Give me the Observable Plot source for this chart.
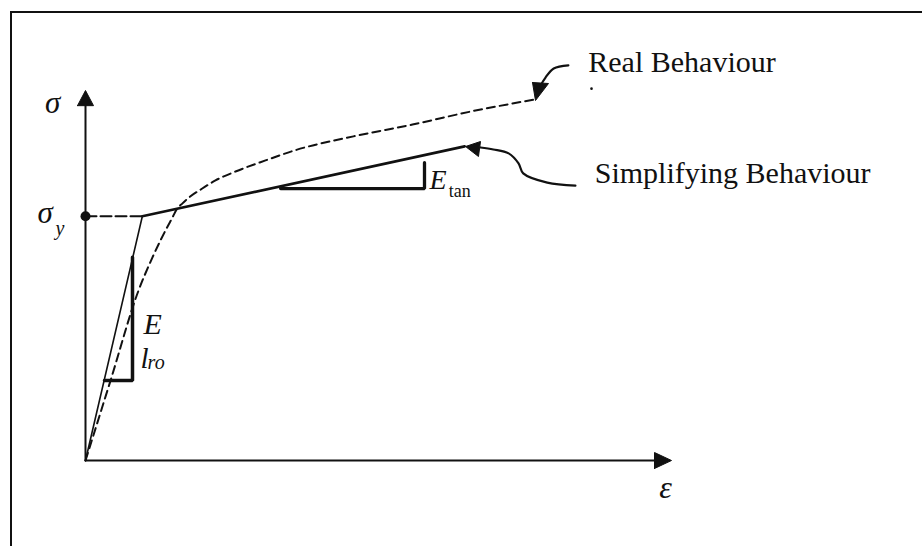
<!DOCTYPE html>
<html>
<head>
<meta charset="utf-8">
<script src="https://cdn.jsdelivr.net/npm/d3@7"></script>
<script src="https://cdn.jsdelivr.net/npm/@observablehq/plot@0.6"></script>
<style>
  html, body { margin: 0; padding: 0; background: #fff; }
  #wrap { position: relative; width: 922px; height: 546px; overflow: hidden; }
  #frame { position: absolute; left: 10px; top: 11px; width: 912px; height: 540px;
           border-top: 2.5px solid #111; border-left: 2.5px solid #111; pointer-events: none; }
  svg { display: block; }
</style>
</head>
<body>
<div id="wrap"><div id="frame"></div></div>
<script>
// ---- chart values (strain ε and stress σ in arbitrary 0-100 units) ----
const elasticEps = [0, 9.7];
const elasticSig = [0, 66];
const plasticEps = [9.7, 64.7];
const plasticSig = [66, 84.9];

const realEps = [0, 4.27, 9.04, 11.43, 12.8, 13.99, 14.85, 15.53, 16.55, 17.92, 19.62, 22.18, 25.6, 30.72, 35.67, 45.73, 55.8, 65.7, 76.8];
const realSig = [0, 21.6, 45.9, 54.9, 59.5, 63.2, 65.7, 67.8, 69.5, 71.4, 73.2, 75.7, 78.1, 81.1, 83.8, 87.6, 90.8, 94.3, 97.6];

const yieldSig = 66;
const yieldEps = 9.7;

// slope triangles
const eTriEps = [3.24, 8.02, 8.02];
const eTriSig = [21.6, 21.6, 54.9];
const tanTriEps = [33.3, 57.85, 57.85];
const tanTriSig = [73.5, 73.5, 80.5];

// axes
const yAxisTop = 95.9, yArrowTip = 100, yArrowHalf = 1.37;
const xAxisEnd = 97.1, xArrowTip = 100, xArrowHalf = 2.16;

// pointer arrows
const realPtrEps = [82.4, 79.9, 78.5, 77.65];
const realPtrSig = [106.8, 105.95, 103.5, 101.35];
const realHeadEps = [76.28, 79.01, 76.79];
const realHeadSig = [102.16, 101.89, 97.3];

const simpPtrEps = [83.6, 78.8, 74.7, 73.9, 72.2, 69.6, 67.4];
const simpPtrSig = [74.3, 75.1, 77.6, 80.3, 83.0, 84.05, 84.6];
const simpHeadEps = [64.85, 67.41, 67.06];
const simpHeadSig = [84.86, 86.22, 82.16];

// labels
const labels = [
  {t: "Real Behaviour", x: 85.8, y: 105.1, size: 30, style: "normal"},
  {t: "Simplifying Behaviour", x: 86.9, y: 75.1, size: 30, style: "normal"},
  {t: "σ", x: -6.9, y: 94.05, size: 31, style: "italic"},
  {t: "σ", x: -8.2, y: 64.3, size: 31, style: "italic"},
  {t: "y", x: -5.1, y: 61.0, size: 20, style: "italic"},
  {t: "E", x: 9.9, y: 34.3, size: 30, style: "italic"},
  {t: "l", x: 9.4, y: 25.1, size: 29, style: "italic"},
  {t: "ro", x: 10.6, y: 24.6, size: 20, style: "italic"},
  {t: "E", x: 58.7, y: 73.5, size: 28, style: "italic"},
  {t: "tan", x: 62.0, y: 71.1, size: 18, style: "normal"},
  {t: "ε", x: 97.9, y: -10, size: 32, style: "italic"}
];
const strayDot = [{x: 86.35, y: 100.5}];

const zip = (xs, ys) => xs.map((x, i) => ({x, y: ys[i]}));
const closed = (xs, ys) => { const p = zip(xs, ys); return p.concat([p[0]]); };

const serif = "'Liberation Serif', 'Times New Roman', 'DejaVu Serif', serif";

const textMarks = labels.map(d => Plot.text([d], {
  x: "x", y: "y", text: "t", textAnchor: "start", lineAnchor: "bottom",
  fontSize: d.size, fontStyle: d.style, fontFamily: serif, fill: "#111"
}));

const chart = Plot.plot({
  width: 922, height: 546, margin: 0,
  x: {domain: [0, 100], range: [85, 671], axis: null},
  y: {domain: [0, 100], range: [460, 90], axis: null},
  style: {background: "transparent", overflow: "visible"},
  marks: [
    // axes
    Plot.line(zip([0, 0], [0, yAxisTop]), {x: "x", y: "y", stroke: "#111", strokeWidth: 2}),
    Plot.line(closed([-yArrowHalf, 0, yArrowHalf], [yAxisTop, yArrowTip, yAxisTop]), {x: "x", y: "y", fill: "#111", stroke: "#111", strokeWidth: 1}),
    Plot.line(zip([0, xAxisEnd], [0, 0]), {x: "x", y: "y", stroke: "#111", strokeWidth: 2}),
    Plot.line(closed([xAxisEnd, xArrowTip, xAxisEnd], [-xArrowHalf, 0, xArrowHalf]), {x: "x", y: "y", fill: "#111", stroke: "#111", strokeWidth: 1}),
    // real behaviour (dashed)
    Plot.line(zip(realEps, realSig), {x: "x", y: "y", stroke: "#111", strokeWidth: 2, strokeDasharray: "8,5", curve: "monotone-x"}),
    // yield dashed line and dot
    Plot.line(zip([0, yieldEps], [yieldSig, yieldSig]), {x: "x", y: "y", stroke: "#111", strokeWidth: 2, strokeDasharray: "11,4"}),
    Plot.dot([{x: 0, y: yieldSig}], {x: "x", y: "y", r: 5, fill: "#111"}),
    // simplifying behaviour (solid)
    Plot.line(zip(elasticEps, elasticSig), {x: "x", y: "y", stroke: "#111", strokeWidth: 1.6}),
    Plot.line(zip(plasticEps, plasticSig), {x: "x", y: "y", stroke: "#111", strokeWidth: 2.6}),
    // slope triangles
    Plot.line(zip(eTriEps, eTriSig), {x: "x", y: "y", stroke: "#111", strokeWidth: 3.5, strokeLinejoin: "miter"}),
    Plot.line(zip(tanTriEps, tanTriSig), {x: "x", y: "y", stroke: "#111", strokeWidth: 3.3, strokeLinejoin: "miter"}),
    // pointer arrows
    Plot.line(zip(realPtrEps, realPtrSig), {x: "x", y: "y", stroke: "#111", strokeWidth: 2.2, curve: "catmull-rom"}),
    Plot.line(closed(realHeadEps, realHeadSig), {x: "x", y: "y", fill: "#111", stroke: "#111", strokeWidth: 1}),
    Plot.line(zip(simpPtrEps, simpPtrSig), {x: "x", y: "y", stroke: "#111", strokeWidth: 2.2, curve: "catmull-rom"}),
    Plot.line(closed(simpHeadEps, simpHeadSig), {x: "x", y: "y", fill: "#111", stroke: "#111", strokeWidth: 1}),
    Plot.dot(strayDot, {x: "x", y: "y", r: 1.3, fill: "#111"}),
    ...textMarks
  ]
});
document.getElementById("wrap").prepend(chart);
</script>
</body>
</html>
